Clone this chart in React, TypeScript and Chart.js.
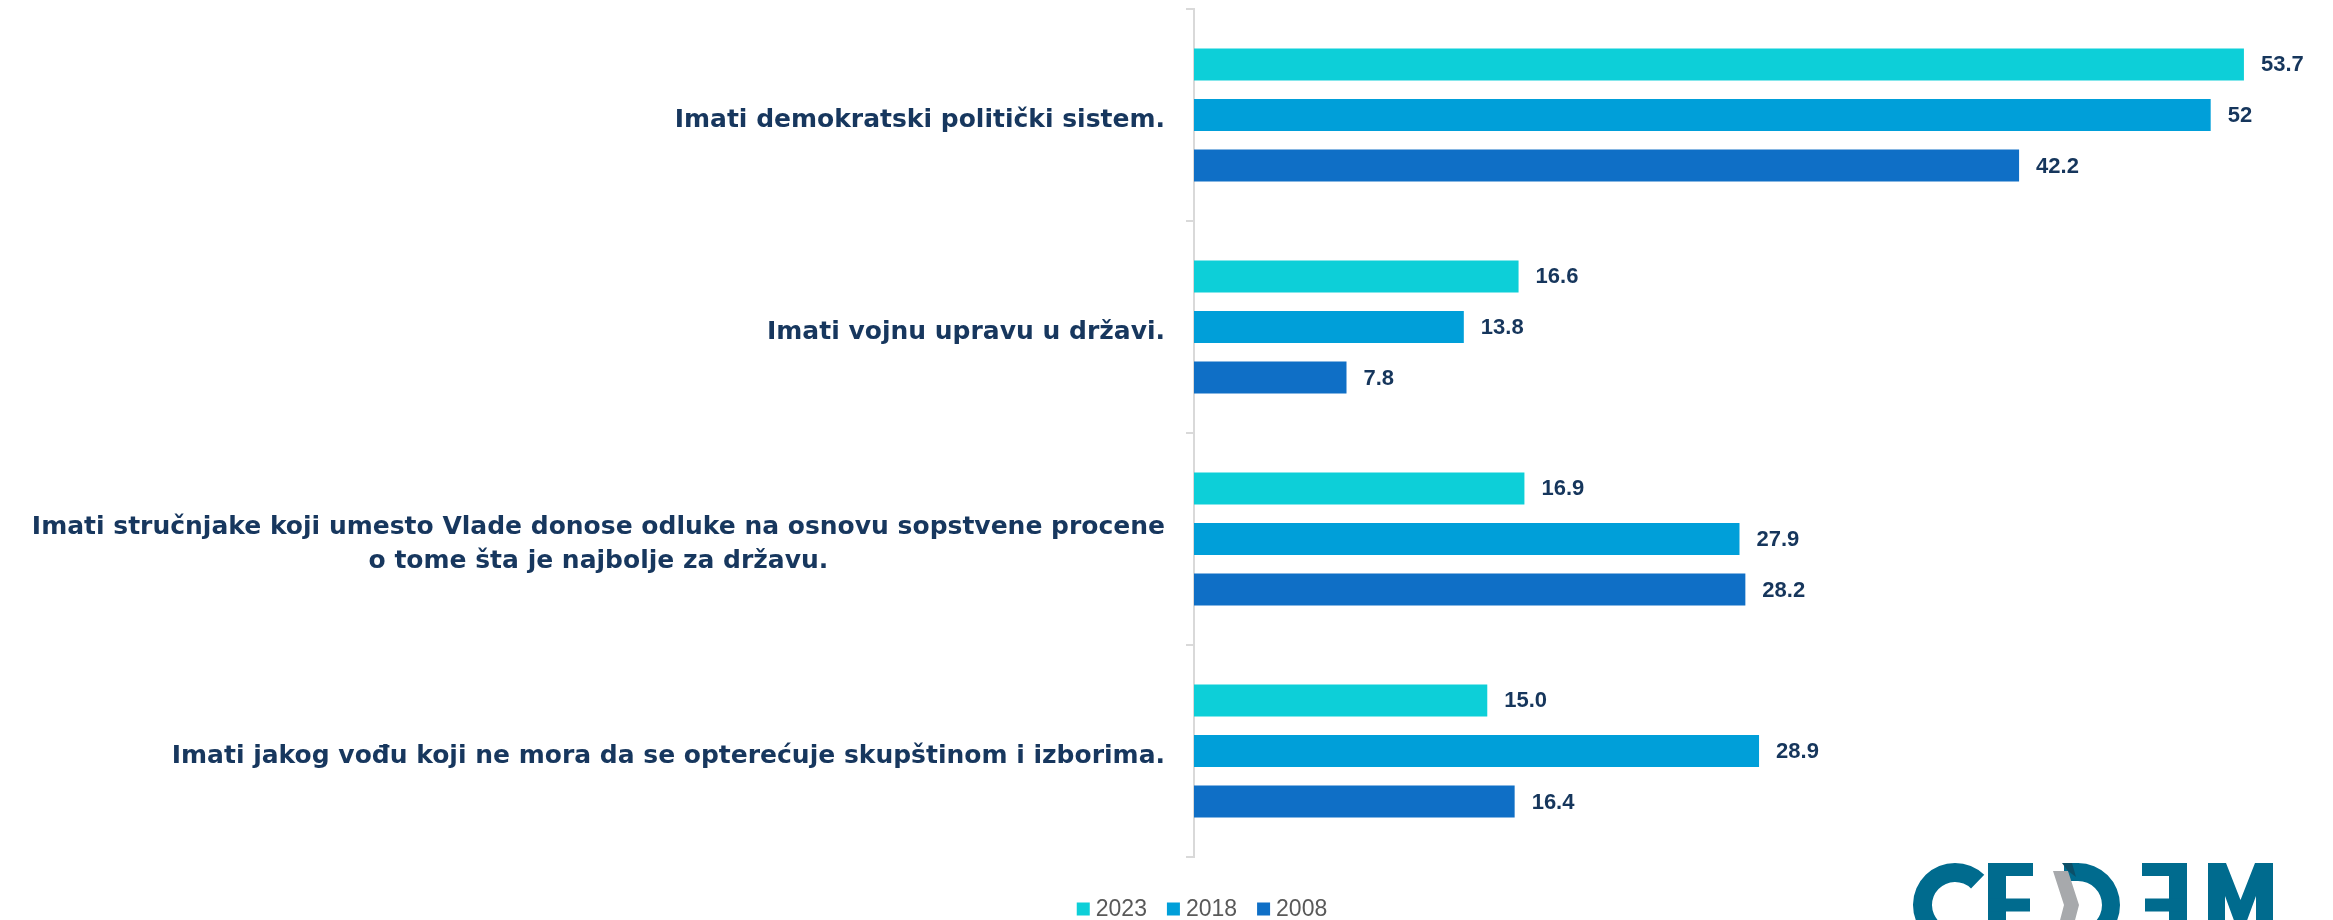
import React, { useEffect, useRef } from "react";
import { Chart, registerables } from "chart.js";

Chart.register(...registerables);

const categories: string[][] = [
  ["Imati demokratski politički sistem."],
  ["Imati vojnu upravu u državi."],
  [
    "Imati stručnjake koji umesto Vlade donose odluke na osnovu sopstvene procene",
    "o tome šta je najbolje za državu.",
  ],
  ["Imati jakog vođu koji ne mora da se opterećuje skupštinom i izborima."],
];

const seriesNames = ["2023", "2018", "2008"];
const values2023 = [53.7, 16.6, 16.9, 15.0];
const values2018 = [52, 13.8, 27.9, 28.9];
const values2008 = [42.2, 7.8, 28.2, 16.4];
const labels2023 = ["53.7", "16.6", "16.9", "15.0"];
const labels2018 = ["52", "13.8", "27.9", "28.9"];
const labels2008 = ["42.2", "7.8", "28.2", "16.4"];
const seriesColors = ["#0DCFD8", "#009FD9", "#0F6FC6"];
const xMax = 58;

const valueSets = [values2023, values2018, values2008];
const labelSets = [labels2023, labels2018, labels2008];

const NAVY = "#17375E";

const categoryLabelPlugin = {
  id: "categoryLabels",
  afterDraw(chart: any) {
    const ctx = chart.ctx as CanvasRenderingContext2D;
    const yScale = chart.scales.y;
    ctx.save();
    ctx.font = "bold 25px 'DejaVu Sans'";
    ctx.fillStyle = NAVY;
    ctx.textAlign = "center";
    ctx.textBaseline = "middle";
    const xr = chart.chartArea.left - 29;
    const lh = 34;
    categories.forEach((lines, i) => {
      const cy = yScale.getPixelForValue(i) + 5;
      const maxW = Math.max(...lines.map((l) => ctx.measureText(l).width));
      const cx = xr - maxW / 2;
      lines.forEach((l, j) => {
        ctx.fillText(l, cx, cy + (j - (lines.length - 1) / 2) * lh);
      });
    });
    ctx.restore();
  },
};

const dataLabelPlugin = {
  id: "dataLabels",
  afterDatasetsDraw(chart: any) {
    const ctx = chart.ctx as CanvasRenderingContext2D;
    ctx.save();
    ctx.font = "bold 22px 'Liberation Sans'";
    ctx.fillStyle = "#16365C";
    ctx.textAlign = "left";
    ctx.textBaseline = "middle";
    chart.data.datasets.forEach((_ds: any, di: number) => {
      const meta = chart.getDatasetMeta(di);
      meta.data.forEach((bar: any, i: number) => {
        ctx.fillText(labelSets[di][i], bar.x + 17, bar.y + 1);
      });
    });
    ctx.restore();
  },
};

const legendPlugin = {
  id: "customLegend",
  afterDraw(chart: any) {
    const ctx = chart.ctx as CanvasRenderingContext2D;
    ctx.save();
    ctx.font = "23px 'Liberation Sans'";
    ctx.textBaseline = "middle";
    ctx.textAlign = "left";
    const box = 13;
    const gap = 6;
    const itemGap = 20;
    const widths = seriesNames.map((n) => box + gap + ctx.measureText(n).width);
    const total = widths.reduce((a, b) => a + b, 0) + itemGap * (seriesNames.length - 1);
    let x = 1202 - total / 2;
    const cy = 909;
    seriesNames.forEach((n, i) => {
      ctx.fillStyle = seriesColors[i];
      ctx.fillRect(x, cy - box / 2, box, box);
      ctx.fillStyle = "#595959";
      ctx.fillText(n, x + box + gap, cy + 1);
      x += widths[i] + itemGap;
    });
    ctx.restore();
  },
};

const logoPlugin = {
  id: "logo",
  afterDraw(chart: any) {
    const ctx = chart.ctx as CanvasRenderingContext2D;
    const blue = "#006B8E";
    const gray = "#A7A9AC";
    const top = 863;
    const H = 84;
    const mid = top + H / 2;
    const bot = top + H;
    const bh = 13;
    ctx.save();
    ctx.fillStyle = blue;
    // C
    ctx.beginPath();
    ctx.arc(1955, mid, 42, 0.8, 2 * Math.PI - 0.8, false);
    ctx.arc(1955, mid, 23, 2 * Math.PI - 0.8, 0.8, true);
    ctx.closePath();
    ctx.fill();
    // E
    ctx.fillRect(1988, top, 18, H);
    ctx.fillRect(1988, top, 45, bh);
    ctx.fillRect(1988, mid - bh / 2, 42, bh);
    ctx.fillRect(1988, bot - bh, 45, bh);
    // D bowl
    ctx.beginPath();
    ctx.arc(2078, mid, 42, -Math.PI / 2, Math.PI / 2, false);
    ctx.arc(2078, mid, 24, Math.PI / 2, -Math.PI / 2, true);
    ctx.closePath();
    ctx.fill();
    ctx.fillRect(2064, top, 15, 18);
    ctx.fillRect(2064, bot - 18, 15, 18);
    // chevron
    ctx.fillStyle = gray;
    ctx.beginPath();
    ctx.moveTo(2053, top + 8);
    ctx.lineTo(2068, top + 8);
    ctx.lineTo(2079, mid);
    ctx.lineTo(2068, bot);
    ctx.lineTo(2053, bot);
    ctx.lineTo(2064, mid);
    ctx.closePath();
    ctx.fill();
    ctx.fillStyle = "#0B4F68";
    ctx.beginPath();
    ctx.moveTo(2062, top);
    ctx.lineTo(2072, top);
    ctx.lineTo(2076, top + 14);
    ctx.lineTo(2068, top + 8);
    ctx.closePath();
    ctx.fill();
    // mirrored E
    ctx.fillStyle = blue;
    ctx.fillRect(2169, top, 18, H);
    ctx.fillRect(2142, top, 45, bh);
    ctx.fillRect(2145, mid - bh / 2, 42, bh);
    ctx.fillRect(2142, bot - bh, 45, bh);
    // M
    ctx.beginPath();
    ctx.moveTo(2208, bot);
    ctx.lineTo(2208, top);
    ctx.lineTo(2226, top);
    ctx.lineTo(2240.5, 900);
    ctx.lineTo(2255, top);
    ctx.lineTo(2273, top);
    ctx.lineTo(2273, bot);
    ctx.lineTo(2256, bot);
    ctx.lineTo(2256, 896);
    ctx.lineTo(2245, 926);
    ctx.lineTo(2236, 926);
    ctx.lineTo(2225, 896);
    ctx.lineTo(2225, bot);
    ctx.closePath();
    ctx.fill();
    ctx.restore();
  },
};

export default function App() {
  const ref = useRef<HTMLCanvasElement>(null);
  useEffect(() => {
    if (!ref.current) return;
    const chart = new Chart(ref.current, {
      type: "bar",
      data: {
        labels: categories,
        datasets: seriesNames.map((name, i) => ({
          label: name,
          data: valueSets[i],
          backgroundColor: seriesColors[i],
          borderWidth: 0,
          categoryPercentage: 0.716,
          barPercentage: 0.632,
        })),
      },
      options: {
        indexAxis: "y",
        responsive: false,
        maintainAspectRatio: false,
        animation: false,
        layout: { padding: { top: 9, bottom: 63, left: 0, right: 5 } },
        plugins: {
          legend: { display: false },
          tooltip: { enabled: false },
        },
        scales: {
          x: { display: false, min: 0, max: xMax },
          y: {
            grid: {
              display: true,
              drawOnChartArea: false,
              drawTicks: true,
              tickLength: 8,
              color: "#D9D9D9",
              lineWidth: 2,
              offset: true,
            },
            border: { display: true, color: "#D9D9D9", width: 2 },
            ticks: { display: false },
            afterFit: (s: any) => {
              s.width = 1194;
            },
          },
        },
      },
      plugins: [categoryLabelPlugin, dataLabelPlugin, legendPlugin, logoPlugin],
    } as any);
    return () => chart.destroy();
  }, []);
  return (
    <div style={{ position: "fixed", left: 0, top: 0, width: 2333, height: 920, background: "#fff" }}>
      <canvas ref={ref} width={2333} height={920} style={{ display: "block" }} />
    </div>
  );
}
